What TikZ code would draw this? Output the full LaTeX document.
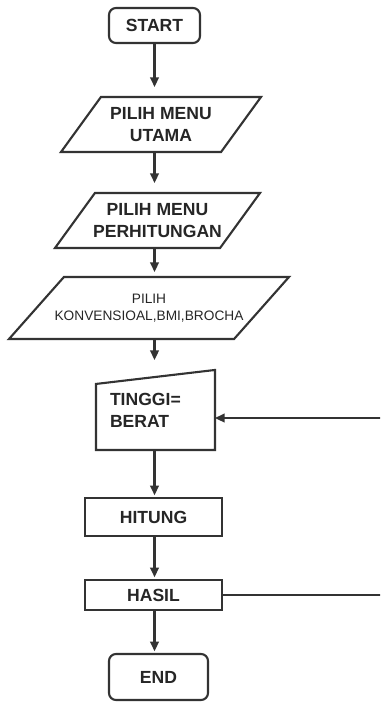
\documentclass[tikz,border=0pt]{standalone}
\usepackage{fontspec}
\setmainfont{Liberation Sans}
\usetikzlibrary{arrows.meta}

% outline of an input box round a named node: name, half slant
\newcommand{\ioframe}[2]{\draw ([xshift=#2]#1.north west) -- ([xshift=#2]#1.north east) -- ([xshift=-#2]#1.south east) -- ([xshift=-#2]#1.south west) -- cycle;}

\begin{document}
\begin{tikzpicture}[x=0.02cm, y=-0.02cm, color=black!80, line width=1.2pt,
	>={Triangle[length=5.5pt,width=5pt]},
	every node/.style={font=\fontsize{10}{12.5}\selectfont\bfseries, text=black!85, inner sep=0pt},
	term/.style={draw, rounded corners=0.14cm},
	proc/.style={draw, rectangle},
	io/.style={rectangle, align=center}]
	\useasboundingbox (0,0) rectangle (380,702);
	\clip (0,0) rectangle (380,702);
	\node[term, minimum width=1.82cm, minimum height=0.7cm] (start) at (154.5,25.5) {START};
	\node[io, minimum width=3.16cm, minimum height=1.06cm] (menu) at (161,124.5) {PILIH MENU\\UTAMA};
	\ioframe{menu}{0.4cm}
	\node[io, minimum width=3.26cm, minimum height=1.06cm] (calc) at (157.5,220.5) {PILIH MENU\\PERHITUNGAN};
	\ioframe{calc}{0.4cm}
	\node[io, minimum width=4.46cm, minimum height=1.2cm, font=\fontsize{7.8}{9.5}\selectfont] (method) at (149,308) {PILIH\\KONVENSIOAL,BMI,BROCHA};
	\ioframe{method}{0.55cm}
	\node[rectangle, align=left, text width=1.82cm, inner xsep=0.26cm, minimum height=1.56cm] (input) at (155.5,410) {TINGGI=\\BERAT};
	\draw (input.south west) -- ([yshift=-0.28cm]input.north west) -- (input.north east) -- (input.south east) -- cycle;
	\node[proc, minimum width=2.74cm, minimum height=0.76cm] (count) at (153.5,517) {HITUNG};
	\node[proc, minimum width=2.74cm, minimum height=0.6cm] (result) at (153.5,595) {HASIL};
	\node[term, minimum width=1.98cm, minimum height=0.92cm] (end) at (158.5,677) {END};
	\coordinate (loop) at (384,418);
	\draw[->, shorten >=0.2cm] (start.south) -- (start.south |- menu.north);
	\draw[->, shorten >=0.2cm] (menu.south -| start) -- (calc.north -| start);
	\draw[->, shorten >=0.1cm] (calc.south -| start) -- (method.north -| start);
	\draw[->, shorten >=0.2cm] (method.south -| start) -- (input.north -| start);
	\draw[->, shorten >=1pt] (input.south -| start) -- (count.north -| start);
	\draw[->, shorten >=1pt] (count.south -| start) -- (result.north -| start);
	\draw[->, shorten >=1pt] (result.south -| start) -- (end.north -| start);
	\draw[->] (result.east) -- (result.east -| loop) -- (loop) -- (loop -| input.east);
\end{tikzpicture}
\end{document}
